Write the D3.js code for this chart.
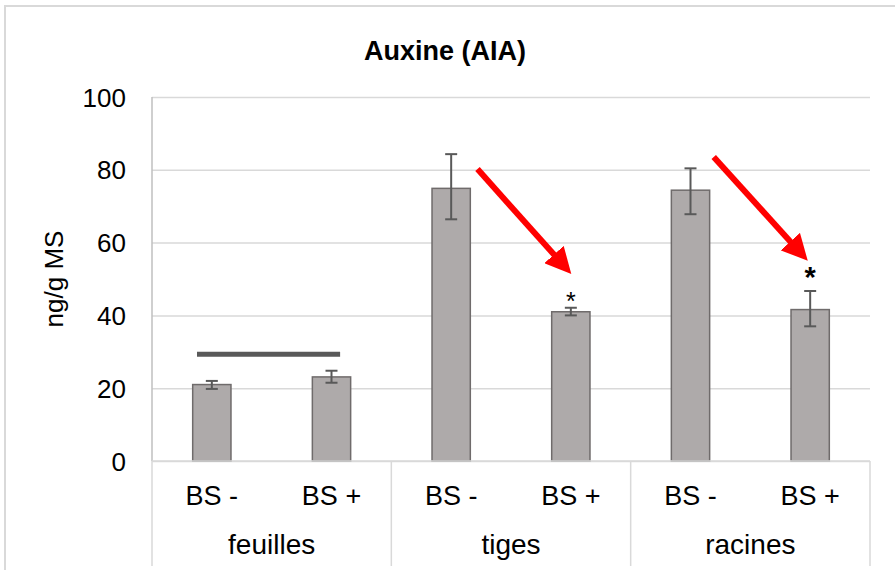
<!doctype html>
<html lang="fr">
<head>
<meta charset="utf-8">
<title>Auxine (AIA)</title>
<script src="https://d3js.org/d3.v7.min.js"></script>
<style>
body { margin: 0; background: #fff; }
svg { font-family: "Liberation Sans", Arial, sans-serif; }
.grid line { stroke: #d9d9d9; stroke-width: 1.5; }
.grid text { font-size: 26px; fill: #000; }
.xlab text { font-size: 27px; fill: #000; }
.glab text { font-size: 28px; fill: #000; }
</style>
</head>
<body>
<div id="chart"></div>
<script>
// data
var groups = ["feuilles", "tiges", "racines"];
var treatments = ["BS -", "BS +"];
var means = [21, 23.1, 74.9, 41.0, 74.4, 41.6];   // feuilles-, feuilles+, tiges-, tiges+, racines-, racines+
var errLow = [19.8, 21.5, 66.4, 40.0, 67.8, 37.0];
var errHigh = [22.0, 24.8, 84.3, 42.1, 80.4, 46.7];
var yTicks = [0, 20, 40, 60, 80, 100];

// annotations: group, position inside group (0..1), value
var arrowGroups = ["tiges", "racines"];
var arrowFrom = [[0.36, 80.2], [0.347, 83.5]];
var arrowTo = [[0.752, 51.4], [0.74, 55]];
var starGroups = ["tiges", "racines"];
var starValues = [46.6, 53.8];
var starSizes = [25, 29];
var lineGroup = "feuilles";
var lineSpan = [0.188, 0.786];
var lineValue = 29.3;

var W = 895, H = 570;
var margin = { top: 97, right: 25, bottom: 109, left: 152 };
var width = W - margin.left - margin.right,
    height = H - margin.top - margin.bottom;

var svg = d3.select("#chart").append("svg")
    .attr("width", W)
    .attr("height", H);

// outer frame
svg.append("rect")
    .attr("x", 5).attr("y", 6)
    .attr("width", W + 20).attr("height", H + 20)
    .attr("fill", "none")
    .attr("stroke", "#d9d9d9")
    .attr("stroke-width", 2);

svg.append("text")
    .attr("x", 445).attr("y", 60)
    .attr("text-anchor", "middle")
    .style("font-size", "27px")
    .style("font-weight", "bold")
    .text("Auxine (AIA)");

var canvas = svg.append("g")
    .attr("transform", "translate(" + margin.left + "," + margin.top + ")");

var x0 = d3.scaleBand().domain(groups).range([0, width]);
var x1 = d3.scaleBand().domain(treatments).range([0, x0.bandwidth()])
    .paddingInner(0.68).paddingOuter(0.34);
var y = d3.scaleLinear().domain([0, 100]).range([height, 0]);

function xAt(g, f) { return x0(g) + f * x0.bandwidth(); }

// grid + y labels
var yAxis = canvas.append("g")
    .attr("class", "grid")
    .call(d3.axisLeft(y).tickValues(yTicks).tickSize(-width).tickPadding(26));
yAxis.select(".domain").remove();
yAxis.selectAll("text").attr("dy", "0.35em");

// left axis line
canvas.append("line")
    .attr("x1", 0).attr("x2", 0)
    .attr("y1", 0).attr("y2", height)
    .attr("stroke", "#bfbfbf").attr("stroke-width", 1.5);

svg.append("text")
    .attr("transform", "translate(63,279) rotate(-90)")
    .attr("text-anchor", "middle")
    .style("font-size", "26px")
    .text("ng/g MS");

// bars
var rows = [];
groups.forEach(function(g, i) {
    treatments.forEach(function(t, j) {
        var k = i * 2 + j;
        rows.push({ g: g, t: t, v: means[k], lo: errLow[k], hi: errHigh[k] });
    });
});

canvas.selectAll(".bar")
    .data(rows)
  .enter().append("rect")
    .attr("class", "bar")
    .attr("x", function(d) { return x0(d.g) + x1(d.t); })
    .attr("width", x1.bandwidth())
    .attr("y", function(d) { return y(d.v); })
    .attr("height", function(d) { return height - y(d.v); })
    .attr("fill", "#aeaaaa")
    .attr("stroke", "#6f6b6b")
    .attr("stroke-width", 1.5);

// error bars
var cx = function(d) { return x0(d.g) + x1(d.t) + x1.bandwidth() / 2; };
var eb = canvas.selectAll(".err").data(rows).enter().append("g")
    .attr("class", "err")
    .attr("stroke", "#595959")
    .attr("stroke-width", 2);
eb.append("line")
    .attr("x1", cx).attr("x2", cx)
    .attr("y1", function(d) { return y(d.lo); })
    .attr("y2", function(d) { return y(d.hi); });
eb.append("line")
    .attr("x1", function(d) { return cx(d) - 6; })
    .attr("x2", function(d) { return cx(d) + 6; })
    .attr("y1", function(d) { return y(d.lo); })
    .attr("y2", function(d) { return y(d.lo); });
eb.append("line")
    .attr("x1", function(d) { return cx(d) - 6; })
    .attr("x2", function(d) { return cx(d) + 6; })
    .attr("y1", function(d) { return y(d.hi); })
    .attr("y2", function(d) { return y(d.hi); });

// x axis: baseline, separators, labels
canvas.append("line")
    .attr("x1", 0).attr("x2", width)
    .attr("y1", height).attr("y2", height)
    .attr("stroke", "#d9d9d9").attr("stroke-width", 1.5);

var seps = groups.map(function(g) { return x0(g); }).concat([width]);
canvas.selectAll(".sep")
    .data(seps)
  .enter().append("line")
    .attr("class", "sep")
    .attr("x1", function(d) { return d; })
    .attr("x2", function(d) { return d; })
    .attr("y1", height)
    .attr("y2", height + 105)
    .attr("stroke", "#d9d9d9").attr("stroke-width", 1.5);

groups.forEach(function(g) {
    var ax = canvas.append("g")
        .attr("class", "xlab")
        .attr("transform", "translate(" + x0(g) + "," + height + ")")
        .call(d3.axisBottom(x1).tickSize(0).tickPadding(25));
    ax.select(".domain").remove();
});
var gx = canvas.append("g")
    .attr("class", "glab")
    .attr("transform", "translate(0," + height + ")")
    .call(d3.axisBottom(x0).tickSize(0).tickPadding(73));
gx.select(".domain").remove();

// bracket over feuilles
canvas.append("line")
    .attr("x1", xAt(lineGroup, lineSpan[0]))
    .attr("x2", xAt(lineGroup, lineSpan[1]))
    .attr("y1", y(lineValue)).attr("y2", y(lineValue))
    .attr("stroke", "#595959").attr("stroke-width", 5);

// red arrows
svg.append("defs").append("marker")
    .attr("id", "head")
    .attr("viewBox", "0 0 10 10")
    .attr("refX", 10).attr("refY", 5)
    .attr("markerUnits", "userSpaceOnUse")
    .attr("markerWidth", 26).attr("markerHeight", 26)
    .attr("orient", "auto")
  .append("path")
    .attr("d", "M0,0 L10,5 L0,10 Z")
    .attr("fill", "#ff0000");

arrowGroups.forEach(function(g, i) {
    var ax1 = xAt(g, arrowFrom[i][0]), ay1 = y(arrowFrom[i][1]);
    var ax2 = xAt(g, arrowTo[i][0]), ay2 = y(arrowTo[i][1]);
    var len = Math.hypot(ax2 - ax1, ay2 - ay1);
    var ux = (ax2 - ax1) / len, uy = (ay2 - ay1) / len;
    canvas.append("line")
        .attr("x1", ax1).attr("y1", ay1)
        .attr("x2", ax2 - ux * 20).attr("y2", ay2 - uy * 20)
        .attr("stroke", "#ff0000")
        .attr("stroke-width", 6);
    canvas.append("line")
        .attr("x1", ax2 - ux * 22).attr("y1", ay2 - uy * 22)
        .attr("x2", ax2).attr("y2", ay2)
        .attr("stroke", "none")
        .attr("marker-end", "url(#head)");
});

// significance stars
starGroups.forEach(function(g, i) {
    canvas.append("text")
        .attr("x", x0(g) + x1("BS +") + x1.bandwidth() / 2)
        .attr("y", y(starValues[i]))
        .attr("dy", "0.75em")
        .attr("text-anchor", "middle")
        .style("font-size", starSizes[i] + "px")
        .style("font-weight", i === 1 ? "bold" : "normal")
        .text("*");
});
</script>
</body>
</html>
